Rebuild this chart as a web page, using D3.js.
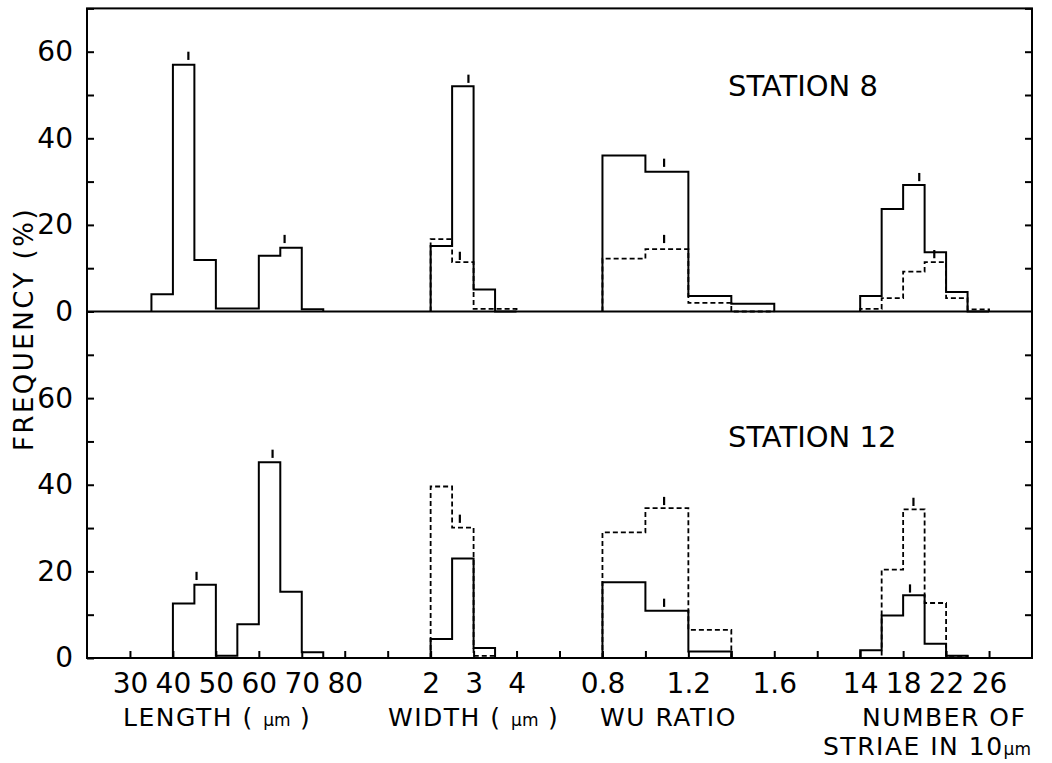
<!DOCTYPE html>
<html>
<head>
<meta charset="utf-8">
<script src="https://cdn.jsdelivr.net/npm/d3@7"></script>
<style>
  body { margin: 0; background: #fff; }
  svg { display: block; font-family: "DejaVu Sans", sans-serif; }
  .frame { fill: none; stroke: #000; stroke-width: 2; }
  .hist { fill: none; stroke: #000; stroke-width: 2; }
  .hist.dashed { stroke-dasharray: 5 3; stroke-width: 1.8; }
  .mark { stroke: #000; stroke-width: 2.2; }
  .axis path { display: none; }
  .axis line { stroke: #000; stroke-width: 2; }
  .axis text { font-size: 28px; fill: #000; font-family: "DejaVu Sans", sans-serif; }
  .label { font-size: 25px; fill: #000; letter-spacing: 1.5px; }
  .station { font-size: 29px; fill: #000; }
</style>
</head>
<body>
<svg id="chart"></svg>
<script>
'use strict'

// bin edges of each measured variable
const lengthEdges = [35, 40, 45, 50, 55, 60, 65, 70, 75]
const widthEdges = [2, 2.5, 3, 3.5, 4]
const ratioEdges = [0.8, 1.0, 1.2, 1.4, 1.6]
const striaeEdges = [14, 16, 18, 20, 22, 24, 26]

// station 8 frequencies (%)
const st8LengthSolid = [4, 57, 11.9, 0.7, 0.7, 12.9, 14.7, 0.5]
const st8WidthSolid = [15.1, 52, 5.1, 0]
const st8WidthDashed = [16.7, 11.4, 0.6, 0.6]
const st8RatioSolid = [36, 32.3, 3.6, 1.8]
const st8RatioDashed = [12.2, 14.4, 2.0, 0]
const st8StriaeSolid = [3.6, 23.7, 29.2, 13.7, 4.5, 0]
const st8StriaeDashed = [0.6, 3.1, 9.2, 11.4, 3.1, 0.5]

// station 12 frequencies (%)
const st12LengthSolid = [0, 12.6, 16.9, 0.5, 7.8, 45.2, 15.3, 1.3]
const st12WidthSolid = [4.4, 23, 2.3, 0]
const st12WidthDashed = [39.6, 30.1, 0.5, 0]
const st12RatioSolid = [17.5, 10.9, 1.5, 0]
const st12RatioDashed = [29, 34.6, 6.5, 0]
const st12StriaeSolid = [1.8, 9.8, 14.5, 3.3, 0.5, 0]
const st12StriaeDashed = [0, 20.4, 34.3, 12.7, 0.5, 0]

// mean markers: [variable, position, frequency at foot of marker, dashed?]
const st8Marks = [
  ['length', 43.6, 58.1, false], ['length', 66, 15.8, false],
  ['width', 2.88, 52.8, false], ['width', 2.68, 11.9, true],
  ['ratio', 1.087, 33.4, false], ['ratio', 1.087, 15.8, true],
  ['striae', 19.5, 30.1, false], ['striae', 20.9, 12.3, true]
]
const st12Marks = [
  ['length', 45.5, 18, false], ['length', 63.2, 46.2, false],
  ['width', 2.68, 31.2, true],
  ['ratio', 1.087, 11.8, false], ['ratio', 1.087, 35.3, true],
  ['striae', 18.64, 15.1, false], ['striae', 18.96, 35.1, true]
]

// tick values / labels
const lengthTicks = [30, 40, 50, 60, 70, 80, 90]
const widthTicks = [2, 3, 4, 5]
const ratioTicks = [0.8, 1.0, 1.2, 1.4, 1.6, 1.8]
const striaeTicks = [14, 18, 22, 26]
const ratioLabels = [0.8, 1.2, 1.6]
const freqTicks = [0, 10, 20, 30, 40, 50, 60, 70]

const chartWidth = 1052, chartHeight = 763
const frameLeft = 87, frameRight = 1032, frameTop = 8.4

// the whole x axis is cut into equal slots, each variable uses a few of them
const slot = d3.scaleLinear().domain([0, 22]).range([frameLeft, frameRight])
const x = {
  length: d3.scaleLinear().domain([30, 80]).range([slot(1), slot(6)]),
  width: d3.scaleLinear().domain([2, 4]).range([slot(8), slot(10)]),
  ratio: d3.scaleLinear().domain([0.8, 1.6]).range([slot(12), slot(16)]),
  striae: d3.scaleLinear().domain([14, 26]).range([slot(18), slot(21)])
}

// y scales (same px per %), the lower panel runs up to 80
const yTop = d3.scaleLinear().domain([0, 70]).range([311.5, frameTop])
const yBot = d3.scaleLinear().domain([0, 80]).range([658, 311.5])

const svg = d3.select('#chart')
  .attr('width', chartWidth)
  .attr('height', chartHeight)

const hists = [
  ['length', lengthEdges, st8LengthSolid, yTop, false],
  ['width', widthEdges, st8WidthSolid, yTop, false],
  ['width', widthEdges, st8WidthDashed, yTop, true],
  ['ratio', ratioEdges, st8RatioSolid, yTop, false],
  ['ratio', ratioEdges, st8RatioDashed, yTop, true],
  ['striae', striaeEdges, st8StriaeSolid, yTop, false],
  ['striae', striaeEdges, st8StriaeDashed, yTop, true],
  ['length', lengthEdges, st12LengthSolid, yBot, false],
  ['width', widthEdges, st12WidthSolid, yBot, false],
  ['width', widthEdges, st12WidthDashed, yBot, true],
  ['ratio', ratioEdges, st12RatioSolid, yBot, false],
  ['ratio', ratioEdges, st12RatioDashed, yBot, true],
  ['striae', striaeEdges, st12StriaeSolid, yBot, false],
  ['striae', striaeEdges, st12StriaeDashed, yBot, true]
]

// step outline of one histogram
const stepPoints = (edges, values) => {
  const pts = [[edges[0], 0]]
  values.forEach((v, i) => {
    pts.push([edges[i], v])
    pts.push([edges[i + 1], v])
  })
  pts.push([edges[edges.length - 1], 0])
  return pts
}

hists.forEach(([key, edges, values, y, dashed]) => {
  const line = d3.line().x(d => x[key](d[0])).y(d => y(d[1]))
  svg.append('path')
    .attr('class', dashed ? 'hist dashed' : 'hist')
    .attr('d', line(stepPoints(edges, values)))
})

// mean markers
const drawMarks = (marks, y) => {
  svg.append('g').selectAll('line')
    .data(marks)
    .enter().append('line')
    .attr('class', 'mark')
    .attr('x1', d => x[d[0]](d[1]))
    .attr('x2', d => x[d[0]](d[1]))
    .attr('y1', d => y(d[2]))
    .attr('y2', d => y(d[2] + 1.9))
}
drawMarks(st8Marks, yTop)
drawMarks(st12Marks, yBot)

// frame and middle baseline
svg.append('rect')
  .attr('class', 'frame')
  .attr('x', frameLeft)
  .attr('y', frameTop)
  .attr('width', frameRight - frameLeft)
  .attr('height', yBot(0) - frameTop)
svg.append('line')
  .attr('class', 'frame')
  .attr('x1', frameLeft).attr('x2', frameRight)
  .attr('y1', yTop(0)).attr('y2', yTop(0))

// y axes, ticks point inwards
const yFmt = d => (d % 20 === 0 && d <= 60) ? d : ''
svg.append('g').classed('axis', true)
  .attr('transform', 'translate(' + frameLeft + ',0)')
  .call(d3.axisLeft(yTop).tickValues(freqTicks).tickSize(-7).tickPadding(14).tickFormat(yFmt))
svg.append('g').classed('axis', true)
  .attr('transform', 'translate(' + frameLeft + ',0)')
  .call(d3.axisLeft(yBot).tickValues(freqTicks).tickSize(-7).tickPadding(14).tickFormat(yFmt))
svg.append('g').classed('axis', true)
  .attr('transform', 'translate(' + frameRight + ',0)')
  .call(d3.axisLeft(yTop).tickValues(freqTicks.slice(1)).tickSize(7).tickFormat(''))
svg.append('g').classed('axis', true)
  .attr('transform', 'translate(' + frameRight + ',0)')
  .call(d3.axisLeft(yBot).tickValues(freqTicks.slice(1)).tickSize(7).tickFormat(''))

// x axes along the bottom
const xAxes = [
  ['length', lengthTicks, d => d <= 80 ? d : ''],
  ['width', widthTicks, d => d <= 4 ? d : ''],
  ['ratio', ratioTicks, d => ratioLabels.includes(d) ? d3.format('.1f')(d) : ''],
  ['striae', striaeTicks, d => d]
]
xAxes.forEach(([key, ticks, fmt]) => {
  svg.append('g').classed('axis', true)
    .attr('transform', 'translate(0,' + yBot(0) + ')')
    .call(d3.axisBottom(x[key]).tickValues(ticks).tickSize(-7).tickPadding(15).tickFormat(fmt))
})

// axis titles
const addLabel = (xPos, yPos, parts) => {
  const t = svg.append('text').attr('class', 'label').attr('x', xPos).attr('y', yPos)
  parts.forEach(p => {
    const s = t.append('tspan').text(p[0])
    if (p[1]) s.style('font-size', p[1] + 'px').style('letter-spacing', '0px')
  })
}
addLabel(123, 726, [['LENGTH ( '], ['\u00b5m', 17], [' )']])
addLabel(388, 726, [['WIDTH ( '], ['\u00b5m', 17], [' )']])
addLabel(600, 726, [['WU RATIO']])
addLabel(862, 726, [['NUMBER OF']])
addLabel(823, 755, [['STRIAE IN 10'], ['\u00b5m', 17]])

svg.append('text')
  .attr('class', 'label')
  .attr('transform', 'translate(33,329) rotate(-90)')
  .attr('text-anchor', 'middle')
  .style('font-size', '26px')
  .style('letter-spacing', '2.5px')
  .text('FREQUENCY (%)')

svg.append('text').attr('class', 'station').attr('x', 728).attr('y', 96).text('STATION 8')
svg.append('text').attr('class', 'station').attr('x', 728).attr('y', 447).text('STATION 12')
</script>
</body>
</html>
